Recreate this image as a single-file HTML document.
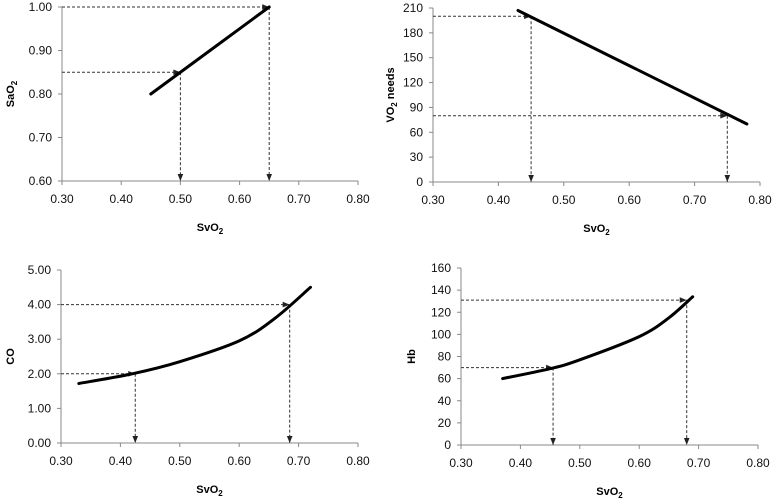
<!DOCTYPE html>
<html><head><meta charset="utf-8"><style>
body{margin:0;background:#fff}
svg{display:block;font-family:"Liberation Sans",Arial,sans-serif}
</style></head><body>
<svg id="c" width="778" height="504" viewBox="0 0 778 504">
<defs><marker id="ah" viewBox="0 0 10 10" refX="10" refY="5" markerWidth="9" markerHeight="7" orient="auto"><path d="M0,1 L10,5 L0,9 z" fill="#222"/></marker></defs>
</svg>
<script>
// Panel 1: SaO2 vs SvO2
const p1X=[0.45,0.65];
const p1Y=[0.80,1.00];
const p1Yticks=[0.60,0.70,0.80,0.90,1.00];
const p1Guides=[[0.50,0.85],[0.65,1.00]];
// Panel 2: VO2 needs vs SvO2
const p2X=[0.43,0.78];
const p2Y=[207,70];
const p2Yticks=[0,30,60,90,120,150,180,210];
const p2Guides=[[0.45,200],[0.75,80]];
// Panel 3: CO vs SvO2
const p3X=[0.33,0.42,0.50,0.60,0.66,0.72];
const p3Y=[1.72,2.0,2.35,2.95,3.6,4.5];
const p3Yticks=[0,1,2,3,4,5];
const p3Guides=[[0.425,2.0],[0.685,4.0]];
// Panel 4: Hb vs SvO2
const p4X=[0.37,0.45,0.50,0.60,0.65,0.69];
const p4Y=[60,69,77,98,115,134];
const p4Yticks=[0,20,40,60,80,100,120,140,160];
const p4Guides=[[0.455,70],[0.68,131]];
const xTicks=[0.30,0.40,0.50,0.60,0.70,0.80];

const svg=document.getElementById('c');
const NS='http://www.w3.org/2000/svg';
function mk(tag,attrs,parent){const e=document.createElementNS(NS,tag);for(const k in attrs)e.setAttribute(k,attrs[k]);(parent||svg).appendChild(e);return e;}
function smooth(pts){
  let d='M'+pts[0][0].toFixed(1)+','+pts[0][1].toFixed(1);
  for(let i=0;i<pts.length-1;i++){
    const p0=pts[Math.max(0,i-1)],p1=pts[i],p2=pts[i+1],p3=pts[Math.min(pts.length-1,i+2)];
    const c1=[p1[0]+(p2[0]-p0[0])/6,p1[1]+(p2[1]-p0[1])/6];
    const c2=[p2[0]-(p3[0]-p1[0])/6,p2[1]-(p3[1]-p1[1])/6];
    d+=` C${c1[0].toFixed(1)},${c1[1].toFixed(1)} ${c2[0].toFixed(1)},${c2[1].toFixed(1)} ${p2[0].toFixed(1)},${p2[1].toFixed(1)}`;
  }
  return d;
}

function panel(id,box,xs,ys,yticks,guides,dec,ytitle,ysub,ytitleX){
  const g=mk('g',{});
  
  
  const ymin=yticks[0],ymax=yticks[yticks.length-1];
  const sx=v=>box.l+(v-0.3)/(0.5)*(box.r-box.l);
  const sy=v=>box.b-(v-ymin)/(ymax-ymin)*(box.b-box.t);
  const ax=mk('path',{d:`M${box.l},${box.t} L${box.l},${box.b} L${box.r},${box.b}`,stroke:'#888',fill:'none','stroke-width':1},g);
  
  
  yticks.forEach(v=>{
    mk('line',{x1:box.l-4,x2:box.l,y1:sy(v),y2:sy(v),stroke:'#888'},g);
    const t=mk('text',{x:box.l-10,y:sy(v)+4,'text-anchor':'end','font-size':12,fill:'#111'},g);
    
    
    t.textContent=v.toFixed(dec);
  });
  xTicks.forEach(v=>{
    mk('line',{x1:sx(v),x2:sx(v),y1:box.b,y2:box.b+4,stroke:'#888'},g);
    const t=mk('text',{x:sx(v),y:box.b+22,'text-anchor':'middle','font-size':12,fill:'#111'},g);
    
    
    t.textContent=v.toFixed(2);
  });
  const xt=mk('text',{x:(box.l+box.r)/2,y:box.b+50,'text-anchor':'middle','font-size':11,'font-weight':'bold'},g);
  
  
  xt.innerHTML='SvO<tspan font-size="8" dy="3">2</tspan>';
  const yt=mk('text',{transform:`translate(${ytitleX},${(box.t+box.b)/2}) rotate(-90)`,'text-anchor':'middle','font-size':11,'font-weight':'bold'},g);
  
  
  yt.innerHTML=ytitle+(ysub!==null?'<tspan font-size="8" dy="3">2</tspan><tspan dy="-3">'+ysub+'</tspan>':'');
  guides.forEach(([gx,gy])=>{
    const h=mk('line',{x1:box.l,y1:sy(gy),x2:sx(gx),y2:sy(gy),stroke:'#333','stroke-dasharray':'3,2','marker-end':'url(#ah)'},g);
    
    
    const v=mk('line',{x1:sx(gx),y1:sy(gy),x2:sx(gx),y2:box.b,stroke:'#333','stroke-dasharray':'3,2','marker-end':'url(#ah)'},g);
    
    
  });
  const pts=xs.map((x,i)=>[sx(x),sy(ys[i])]);
  const ln=mk('path',{d:smooth(pts),stroke:'#000','stroke-width':3,fill:'none','stroke-linecap':'round','stroke-linejoin':'round'},g);
  
  
}
panel('panel-sao2',{l:62,r:358,t:7,b:181},p1X,p1Y,p1Yticks,p1Guides,2,'SaO','',14);
panel('panel-vo2',{l:433,r:760,t:8,b:182},p2X,p2Y,p2Yticks,p2Guides,0,'VO',' needs',394);
panel('panel-co',{l:61,r:358,t:270,b:443},p3X,p3Y,p3Yticks,p3Guides,2,'CO',null,14);
panel('panel-hb',{l:461,r:758,t:268,b:445},p4X,p4Y,p4Yticks,p4Guides,0,'Hb',null,415);
</script>
</body></html>
